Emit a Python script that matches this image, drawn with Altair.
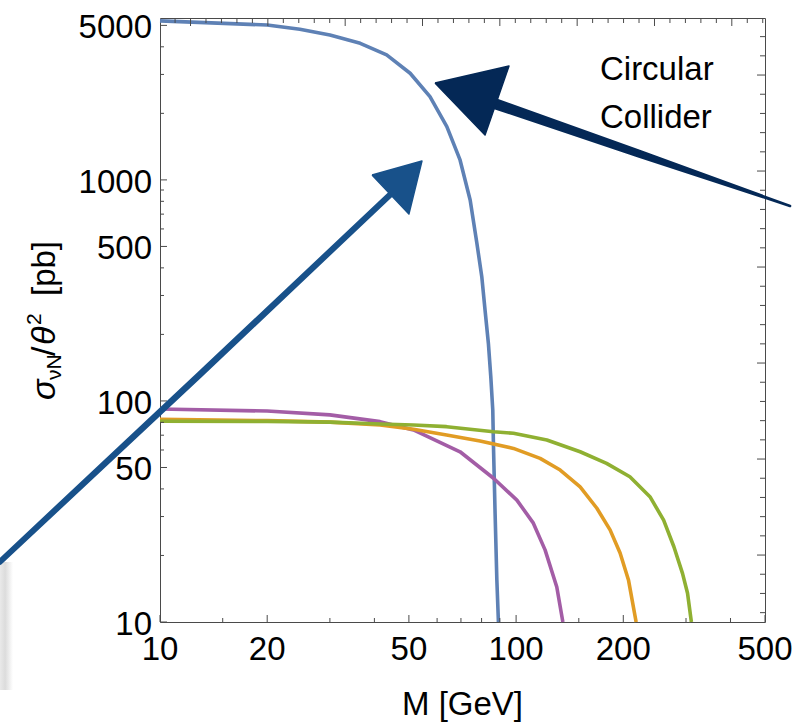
import math

import altair as alt
import pandas as pd

# Heavy-neutrino production, sigma_{nu N}/theta^2 [pb] against mass M [GeV],
# one curve per centre-of-mass energy of the e+e- run.
runs = ["91", "160", "240", "350"]

mass_91 = [10, 20, 24.7, 30, 36.5, 43.3, 50.4, 57.3, 63.9, 69.6, 74.3, 77.6,
           80.1, 81.8, 83.6, 84.9, 86.0, 86.4, 87.3, 88.3, 89.2]
sigma_91 = [5240, 5020, 4800, 4525, 4150, 3675, 3036, 2380, 1741, 1231, 811,
            517, 365, 258, 182, 129, 91, 62, 31, 15.5, 10]

mass_160 = [10, 20, 30, 41.5, 51.5, 69.6, 86.4, 100.5, 111.8, 120.6, 130.1, 135.3]
sigma_160 = [92, 90, 86.5, 80.6, 73.9, 58.9, 44.7, 35.6, 28.0, 21.2, 14.4, 10]

mass_240 = [10, 20, 30, 41.5, 51.5, 63.8, 79.2, 98.3, 116.8, 133, 151.3,
            168.6, 183.6, 195.9, 206.8, 217.3]
sigma_240 = [82.5, 81.5, 80.2, 77.8, 74.4, 70.1, 65.9, 61.0, 55.0, 48.7, 40.9,
             32.7, 26.1, 20.5, 15.5, 10]

mass_350 = [10, 20, 30, 41.5, 51.5, 63.8, 86.4, 98.3, 122, 151.3, 179.5,
            208.7, 237.6, 259.6, 277.4, 293.3, 303, 310.6]
sigma_350 = [81, 80.8, 80.2, 78.7, 77.8, 76.5, 72.6, 71.4, 66.6, 58.9, 52.2,
             45.4, 36.9, 28.9, 21.9, 16.6, 13.5, 10]

# Frame ticks and their labels
x_labels = [10, 20, 50, 100, 200, 500]
x_minor = [15, 30, 40, 60, 70, 80, 90, 150, 300, 400]
y_labels = [10, 50, 100, 500, 1000, 5000]
y_minor = [20, 30, 40, 60, 70, 80, 90, 200, 300, 400, 600, 700, 800, 900,
           2000, 3000, 4000]
top_ln = [round(2.4 + 0.1 * k, 1) for k in range(39)]      # ln M
right_ln = [round(2.4 + 0.2 * k, 1) for k in range(31)]    # ln sigma

# Hand-drawn arrows, in data units (M, sigma)
arrow_a_shaft_m = [3.55, 12.95, 44.8]
arrow_a_shaft_s = [18.7, 132, 872]
arrow_a_head_m = [39.4, 54.4, 50.0]
arrow_a_head_s = [1052, 1218, 701]

arrow_b_shaft_m = [86.1, 222.8, 588]
arrow_b_shaft_s = [2228, 1310, 762]
arrow_b_head_m = [59.2, 95.5, 81.8]
arrow_b_head_s = [2742, 3274, 1596]

note_lines = ["Circular", "Collider"]
note_m = [172, 172]
note_s = [2830, 1717]

# ---- style ----
FONT = "Liberation Sans"
W, H = 605, 604
FRAME = "#4a4a4a"
run_colors = ["#5E81B5", "#A35DA6", "#E19C24", "#8FB032"]
arrow_a_color = "#18518a"
arrow_b_color = "#042856"
shaft_a_width = [6, 6.5, 6]
shaft_b_width = [11, 8, 2.5]

x_scale = alt.Scale(type="log", domain=[10, 500], nice=False)
y_scale = alt.Scale(type="log", domain=[10, 5400], nice=False)

X = lambda f="M": alt.X(f"{f}:Q", scale=x_scale, axis=None)
Y = lambda f="sigma": alt.Y(f"{f}:Q", scale=y_scale, axis=None)

one = pd.DataFrame({"a": [0]})

# soft grey shade at the lower-left edge
shade = alt.Chart(one).mark_rect(
    fill=alt.LinearGradient(
        gradient="linear", x1=0, x2=1, y1=0, y2=0,
        stops=[alt.GradientStop(color="#e0e0e0", offset=0),
               alt.GradientStop(color="#cdcdcd", offset=0.4),
               alt.GradientStop(color="#ffffff", offset=1)]),
    opacity=0.7,
).encode(x=alt.value(-160), x2=alt.value(-147),
         y=alt.value(544), y2=alt.value(672))

# ---- curves ----
rows = []
for run, ms, ss in zip(runs, [mass_91, mass_160, mass_240, mass_350],
                       [sigma_91, sigma_160, sigma_240, sigma_350]):
    for i, (m, s) in enumerate(zip(ms, ss)):
        rows.append({"run": run, "M": m, "sigma": s, "i": i})
curves = pd.DataFrame(rows)

curve_layer = alt.Chart(curves).mark_line(strokeWidth=3.6, strokeJoin="round").encode(
    x=X(), y=Y(),
    color=alt.Color("run:N", scale=alt.Scale(domain=runs, range=run_colors),
                    legend=None),
    order="i:Q",
)

# ---- frame ticks pointing inwards ----
def x_ticks(values, at_top, length):
    df = pd.DataFrame({"M": values})
    y0 = 0 if at_top else H
    y1 = length if at_top else H - length
    return alt.Chart(df).mark_rule(color=FRAME, strokeWidth=1).encode(
        x=X(), y=alt.value(y0), y2=alt.value(y1))


def y_ticks(values, at_right, length):
    df = pd.DataFrame({"sigma": values})
    x0 = W if at_right else 0
    x1 = W - length if at_right else length
    return alt.Chart(df).mark_rule(color=FRAME, strokeWidth=1).encode(
        y=Y(), x=alt.value(x0), x2=alt.value(x1))


top_major = [math.exp(v) for v in top_ln if abs(v * 2 - round(v * 2)) < 1e-9]
top_minor = [math.exp(v) for v in top_ln if abs(v * 2 - round(v * 2)) >= 1e-9]
right_major = [math.exp(v) for v in right_ln if abs(v - round(v)) < 1e-9]
right_minor = [math.exp(v) for v in right_ln if abs(v - round(v)) >= 1e-9]

tick_layers = [
    x_ticks(x_labels, False, 7), x_ticks(x_minor, False, 4),
    y_ticks(y_labels, False, 7), y_ticks(y_minor, False, 4),
    x_ticks(top_major, True, 8), x_ticks(top_minor, True, 5),
    y_ticks(right_major, True, 8), y_ticks(right_minor, True, 5),
]

# tick labels
x_tick_text = alt.Chart(pd.DataFrame({"M": x_labels, "t": [str(v) for v in x_labels]})
                        ).mark_text(font=FONT, fontSize=33, align="center",
                                    baseline="alphabetic", color="black").encode(
    x=X(), y=alt.value(H + 38), text="t:N")
y_tick_text = alt.Chart(pd.DataFrame({"sigma": y_labels, "t": [str(v) for v in y_labels]})
                        ).mark_text(font=FONT, fontSize=33, align="right",
                                    baseline="alphabetic", color="black").encode(
    y=Y(), x=alt.value(-8), text="t:N", yOffset=alt.value(13))

# ---- arrows ----
def shaft(ms, ss, widths, color):
    df = pd.DataFrame({"M": ms, "sigma": ss, "k": range(len(ms))})
    df["w"] = widths
    return alt.Chart(df).mark_trail(color=color).encode(
        x=X(), y=Y(),
        size=alt.Size("w:Q", scale=None, legend=None),
        order="k:Q")


def head(ms, ss, color):
    df = pd.DataFrame({"M": ms + ms[:1], "sigma": ss + ss[:1],
                       "k": range(len(ms) + 1)})
    return alt.Chart(df).mark_line(filled=True, fill=color, stroke=color,
                                   strokeWidth=1.5, strokeJoin="round").encode(
        x=X(), y=Y(), order="k:Q")


arrow_layers = [
    shaft(arrow_a_shaft_m, arrow_a_shaft_s, shaft_a_width, arrow_a_color),
    head(arrow_a_head_m, arrow_a_head_s, arrow_a_color),
    shaft(arrow_b_shaft_m, arrow_b_shaft_s, shaft_b_width, arrow_b_color),
    head(arrow_b_head_m, arrow_b_head_s, arrow_b_color),
]

note = alt.Chart(pd.DataFrame({"t": note_lines, "M": note_m, "sigma": note_s})
                 ).mark_text(font=FONT, fontSize=33, align="left",
                             baseline="alphabetic", color="black").encode(
    x=X(), y=Y(), text="t:N")

# ---- axis titles ----
def label(text, x, y, size, angle=0, italic=False, align="left"):
    return alt.Chart(one).mark_text(
        text=text, font=FONT, fontSize=size, angle=angle, align=align,
        baseline="alphabetic", color="black",
        fontStyle="italic" if italic else "normal",
    ).encode(x=alt.value(x), y=alt.value(y))


title_layers = [
    label("M [GeV]", W / 2, 697, 33, align="center"),
    label("σ", -105, 382, 34, angle=270, italic=True),
    label("νN", -99, 362, 21, angle=270),
    label("/", -105, 338, 34, angle=270),
    label("θ", -105, 327, 34, angle=270, italic=True),
    label("2", -119, 307, 21, angle=270),
    label("[pb]", -105, 278, 33, angle=270),
]

chart = alt.layer(
    shade, curve_layer, *tick_layers, x_tick_text, y_tick_text,
    *arrow_layers, note, *title_layers
).properties(
    width=W, height=H,
    padding={"left": 160, "top": 18, "right": 42, "bottom": 106},
    autosize=alt.AutoSizeParams(type="none"),
).configure_view(stroke=FRAME, strokeWidth=1)

chart.save("out.html", embed_options={"renderer": "svg", "actions": False})
